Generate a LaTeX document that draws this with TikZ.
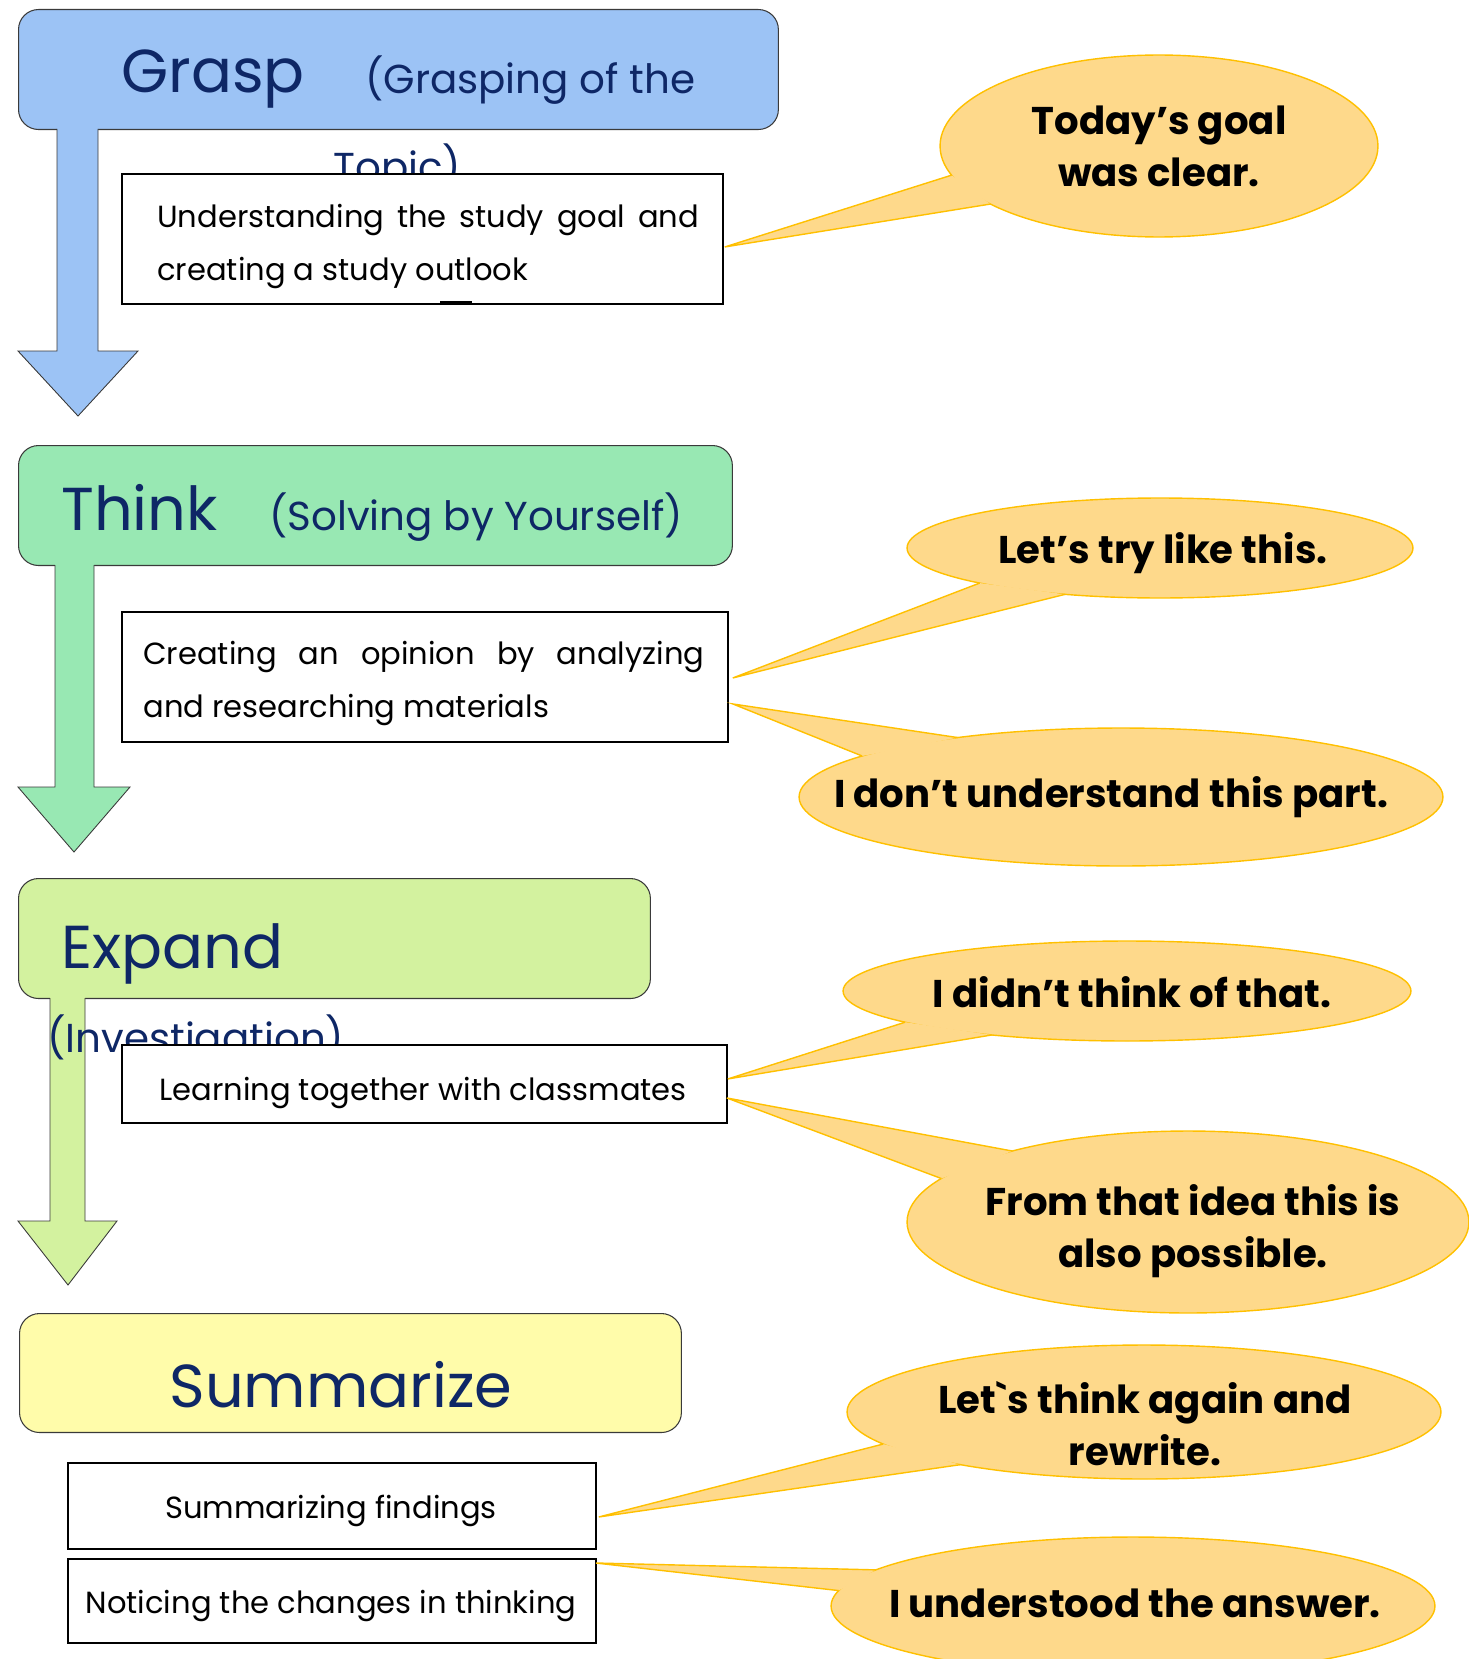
\documentclass[tikz,border=0pt]{standalone}
\usepackage{fontspec}
\setmainfont{Poppins}
\usepackage{xcolor}
\usetikzlibrary{shapes.geometric,calc}

\definecolor{graspblue}{HTML}{9CC3F5}
\definecolor{thinkgreen}{HTML}{98E8B3}
\definecolor{expandgreen}{HTML}{D3F29F}
\definecolor{sumyellow}{HTML}{FFFCAA}
\definecolor{titlenavy}{HTML}{0E2766}
\definecolor{bubblefill}{HTML}{FED98B}
\definecolor{bubbleline}{HTML}{FFC000}
\definecolor{edgegray}{HTML}{3A3A3A}

\begin{document}
\begin{tikzpicture}[x=0.02cm, y=-0.02cm]
        \tikzset{header/.style={draw=edgegray, line width=0.6pt, rounded corners=0.4cm, anchor=north west, inner sep=0pt}}
        \tikzset{flowarrow/.style={draw=edgegray, line width=0.5pt}}
        \tikzset{title/.style={text=titlenavy, font=\fontsize{34.5}{40}\selectfont, anchor=base west, inner sep=0pt}}
        \tikzset{subtitle/.style={text=titlenavy, font=\fontsize{23}{28}\selectfont, anchor=base west, inner sep=0pt}}
        \tikzset{textbox/.style={draw=black, line width=1.1pt, fill=white, anchor=north west, inner sep=0pt}}
        \tikzset{boxtext/.style={font=\fontsize{17.4}{30}\selectfont, anchor=base west, inner sep=0pt, align=left}}
        \tikzset{bubble/.style={ellipse, fill=bubblefill, draw=bubbleline, line width=0.8pt, inner sep=0pt, outer sep=0pt}}
        \tikzset{tail/.style={fill=bubblefill, draw=bubbleline, line width=0.8pt}}
        \tikzset{saying/.style={font=\bfseries\fontsize{22}{29.6}\selectfont, align=center, anchor=base, inner sep=0pt}}

        \useasboundingbox (0,0) rectangle (1468,1659);

        % Headers
        \node [header, fill=graspblue, minimum width=15.2cm, minimum height=2.4cm] (grasp) at (18,9) {};
        \node [header, fill=thinkgreen, minimum width=14.28cm, minimum height=2.4cm] (think) at (18,445) {};
        \node [header, fill=expandgreen, minimum width=12.64cm, minimum height=2.4cm] (expand) at (18,878) {};
        \node [header, fill=sumyellow, minimum width=13.24cm, minimum height=2.38cm] (summarize) at (19,1313) {};

        % Down arrows
        \fill [graspblue] (57,127) -- (57,351) -- (18,351) -- (78,416) -- (138,351) -- (98,351) -- (98,127) -- cycle;
        \draw [flowarrow] (57,129) -- (57,351) -- (18,351) -- (78,416) -- (138,351) -- (98,351) -- (98,129);
        \fill [thinkgreen] (55,563) -- (55,787) -- (18,787) -- (74,852) -- (130,787) -- (94,787) -- (94,563) -- cycle;
        \draw [flowarrow] (55,565) -- (55,787) -- (18,787) -- (74,852) -- (130,787) -- (94,787) -- (94,565);
        \fill [expandgreen] (50,996) -- (50,1221) -- (18,1221) -- (68,1285) -- (117,1221) -- (85,1221) -- (85,996) -- cycle;
        \draw [flowarrow] (50,998) -- (50,1221) -- (18,1221) -- (68,1285) -- (117,1221) -- (85,1221) -- (85,998);

        % Titles
        \node [title] (grasptitle) at (121,93) {Grasp};
        \node [subtitle] (graspsub) at (365,94) {(Grasping of the};
        \node [subtitle] (grasptopic) at (333,182) {Topic)};
        \node [title] (thinktitle) at (61,530) {Think};
        \node [subtitle] (thinksub) at (269,530) {(Solving by Yourself)};
        \node [title] (expandtitle) at (61,968) {Expand};
        \node [subtitle] (expandsub) at (47,1052) {(Investigation)};
        \node [title, anchor=base] (sumtitle) at (341,1407) {Summarize};

        % Activity boxes
        \node [textbox, minimum width=12.02cm, minimum height=2.6cm] (goalbox) at (121,173) {};
        \draw [line width=2.2pt] (440,303) -- (472,303);
        \node [boxtext] (goaltext) at (157,280) {\makebox[10.84cm][s]{Understanding the study goal and}\\creating a study outlook};
        \node [textbox, minimum width=12.12cm, minimum height=2.6cm] (opinionbox) at (121,611) {};
        \node [boxtext] (opiniontext) at (143,717) {\makebox[11.22cm][s]{Creating an opinion by analyzing}\\and researching materials};
        \node [textbox, minimum width=12.1cm, minimum height=1.56cm] (classbox) at (121,1044) {};
        \node [boxtext, anchor=base] (classtext) at (423,1100) {Learning together with classmates};
        \node [textbox, minimum width=10.56cm, minimum height=1.72cm] (findbox) at (67,1462) {};
        \node [boxtext, anchor=base] (findtext) at (331,1518) {Summarizing findings};
        \node [textbox, minimum width=10.56cm, minimum height=1.68cm] (changebox) at (67,1558) {};
        \node [boxtext, anchor=base] (changetext) at (331,1613) {Noticing the changes in thinking};

        % Speech bubbles
        \node [bubble, minimum width=8.76cm, minimum height=3.64cm] (goalsay) at (1159,146) {};
        \filldraw [tail] (goalsay.188) -- ($(goalbox.east)+(1,8)$) -- (goalsay.199);
        \node [saying] (goaltalk) at (1159,187) {Today’s goal\\was clear.};

        \node [bubble, minimum width=10.12cm, minimum height=2cm] (trysay) at (1160,548) {};
        \filldraw [tail] (trysay.191) -- ($(opinionbox.east)+(4,1)$) -- (trysay.206);
        \node [saying] (trytalk) at (1163,563) {Let’s try like this.};

        \node [bubble, minimum width=12.88cm, minimum height=2.76cm] (partsay) at (1121,797) {};
        \filldraw [tail] (partsay.171) -- ($(opinionbox.east)+(4,27)$) -- (partsay.160);
        \node [saying] (parttalk) at (1111,807) {I don’t understand this part.};

        \node [bubble, minimum width=11.36cm, minimum height=2cm] (thatsay) at (1127,991) {};
        \filldraw [tail] (thatsay.188) -- ($(classbox.east)+(0,-5)$) -- (thatsay.198);
        \node [saying] (thattalk) at (1132,1007) {I didn’t think of that.};

        \node [bubble, minimum width=11.24cm, minimum height=3.64cm] (ideasay) at (1188,1222) {};
        \filldraw [tail] (ideasay.170) -- ($(classbox.east)+(-1,14)$) -- (ideasay.158);
        \node [saying] (ideatalk) at (1193,1267) {From that idea this is\\also possible.};

        \node [bubble, minimum width=11.88cm, minimum height=2.68cm] (againsay) at (1144,1412) {};
        \filldraw [tail] (againsay.187) -- ($(findbox.east)+(2,11)$) -- (againsay.196);
        \node [saying] (againtalk) at (1145,1465) {Let\textasciigrave s think again and\\rewrite.};

        \node [bubble, minimum width=12.08cm, minimum height=2.76cm] (answersay) at (1133,1606) {};
        \filldraw [tail] (answersay.172) -- ($(changebox.north east)+(-1,5)$) -- (answersay.177);
        \node [saying] (answertalk) at (1135,1617) {I understood the answer.};
\end{tikzpicture}
\end{document}
